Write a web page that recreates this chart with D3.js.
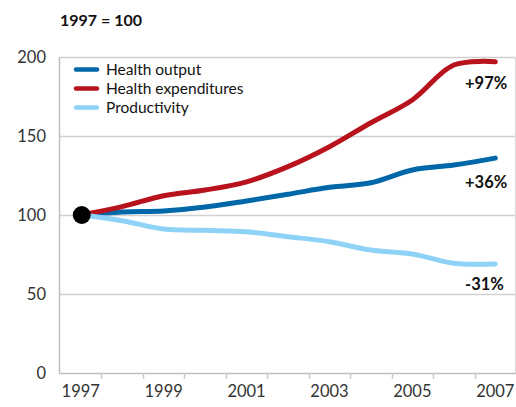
<!DOCTYPE html>
<html>
<head>
<meta charset="utf-8">
<script src="https://cdn.jsdelivr.net/npm/d3@7"></script>
<style>
  html, body { margin: 0; padding: 0; background: #fff; }
  svg { display: block; font-family: Lato, "Open Sans", sans-serif; }
</style>
</head>
<body>
<svg id="chart" width="516" height="407"></svg>
<script>
// Index values, 1997 = 100
const years = [1997, 1998, 1999, 2000, 2001, 2002, 2003, 2004, 2005, 2006, 2007];
const healthOutput = [100, 101.9, 102.5, 105, 108.9, 113.1, 117.5, 120.4, 128.5, 131.6, 136];
const healthExpenditures = [100, 105.3, 112.2, 115.8, 121, 130.6, 143.2, 158.4, 172.8, 194.9, 197];
const productivity = [100, 96.4, 91.1, 90.3, 89.4, 86.3, 83.1, 77.8, 75.3, 69.4, 69];
const seriesNames = ["Health output", "Health expenditures", "Productivity"];
const changeLabels = ["+36%", "+97%", "-31%"];
const yTicks = [0, 50, 100, 150, 200];
const xLabelYears = [1997, 1999, 2001, 2003, 2005, 2007];

const colors = ["#0067a8", "#b8121d", "#8ed3f6"];
const seriesValues = [healthOutput, healthExpenditures, productivity];

const svg = d3.select("#chart");
const plotLeft = 60, plotRight = 516, plotTop = 57, plotBottom = 373;

const x = d3.scaleBand().domain(years).range([plotLeft, plotRight]);
const y = d3.scaleLinear().domain([0, 200]).range([plotBottom, plotTop]);
const cx = d => x(d) + x.bandwidth() / 2;

// Title
svg.append("text")
  .attr("x", 60).attr("y", 26)
  .attr("font-size", 16).attr("font-weight", "bold").attr("fill", "#111")
  .text("1997 = 100");

// Horizontal gridlines
svg.append("g").selectAll("line")
  .data(yTicks.filter(t => t > 0))
  .join("line")
  .attr("x1", plotLeft).attr("x2", plotRight)
  .attr("y1", d => Math.round(y(d)) + 0.5).attr("y2", d => Math.round(y(d)) + 0.5)
  .attr("stroke", "#d0d0d0").attr("stroke-width", 1.5);

// Right frame edge
svg.append("line")
  .attr("x1", plotRight - 0.5).attr("x2", plotRight - 0.5)
  .attr("y1", plotTop).attr("y2", plotBottom)
  .attr("stroke", "#d9d9d9");

// Y axis labels
const yAxis = svg.append("g")
  .attr("transform", `translate(${plotLeft},0)`)
  .call(d3.axisLeft(y).tickValues(yTicks).tickSize(0).tickPadding(14));
yAxis.select(".domain").remove();
yAxis.selectAll("text")
  .attr("font-family", "Lato, sans-serif").attr("font-size", 16.5).attr("fill", "#333");

// Y axis line
svg.append("line")
  .attr("x1", plotLeft - 0.5).attr("x2", plotLeft - 0.5)
  .attr("y1", plotTop).attr("y2", plotBottom)
  .attr("stroke", "#bfbfbf").attr("stroke-width", 1.5);

// X axis with tick marks at band boundaries
const xAxis = svg.append("g")
  .attr("transform", `translate(0,${plotBottom})`)
  .call(d3.axisBottom(x).tickValues(xLabelYears).tickSize(0).tickPadding(12));
xAxis.select(".domain").remove();
xAxis.selectAll("text")
  .attr("font-family", "Lato, sans-serif").attr("font-size", 16.5).attr("fill", "#333");

svg.append("line")
  .attr("x1", plotLeft - 1).attr("x2", plotRight)
  .attr("y1", plotBottom + 0.5).attr("y2", plotBottom + 0.5)
  .attr("stroke", "#bfbfbf").attr("stroke-width", 1.5);

svg.append("g").selectAll("line")
  .data(years.slice(1))
  .join("line")
  .attr("x1", d => Math.round(x(d)) + 0.5).attr("x2", d => Math.round(x(d)) + 0.5)
  .attr("y1", plotBottom).attr("y2", plotBottom + 6)
  .attr("stroke", "#c8c8c8").attr("stroke-width", 1.5);

// Series lines
const line = d3.line()
  .x((d, i) => cx(years[i]))
  .y(d => y(d))
  .curve(d3.curveCatmullRom.alpha(0.5));

svg.append("g").selectAll("path")
  .data(seriesValues)
  .join("path")
  .attr("d", d => line(d))
  .attr("fill", "none")
  .attr("stroke", (d, i) => colors[i])
  .attr("stroke-width", 5)
  .attr("stroke-linecap", "round")
  .attr("stroke-linejoin", "round");

// Base-year marker
svg.append("circle")
  .attr("cx", cx(years[0]) + 1).attr("cy", y(healthOutput[0]))
  .attr("r", 9).attr("fill", "#000");

// End-of-period change labels, placed below each line's last point
const labelOffsets = [30, 27, 26];
svg.append("g").selectAll("text")
  .data(seriesValues)
  .join("text")
  .attr("x", 465)
  .attr("y", (d, i) => y(d[d.length - 1]) + labelOffsets[i])
  .attr("font-size", 16.5).attr("font-weight", "bold").attr("fill", "#111")
  .text((d, i) => changeLabels[i]);

// Legend
const legend = svg.append("g").selectAll("g")
  .data(seriesNames)
  .join("g")
  .attr("transform", (d, i) => `translate(75,${69.5 + i * 19})`);
legend.append("line")
  .attr("x1", 1).attr("x2", 22)
  .attr("stroke", (d, i) => colors[i])
  .attr("stroke-width", 4.5).attr("stroke-linecap", "round");
legend.append("text")
  .attr("x", 31).attr("y", 5)
  .attr("font-size", 15.5).attr("fill", "#111")
  .text(d => d);
</script>
</body>
</html>
